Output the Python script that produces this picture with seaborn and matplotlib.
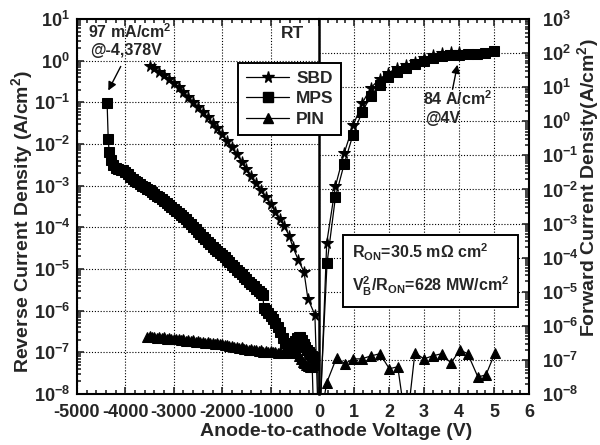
import numpy as np
import pandas as pd
import matplotlib
matplotlib.use("Agg")
import matplotlib.pyplot as plt
import seaborn as sns
from matplotlib.ticker import MultipleLocator, LogLocator, FixedLocator, FuncFormatter, NullFormatter
from matplotlib.lines import Line2D

# ---------------- data ----------------
# reverse side (left axis): voltage in V, log10 of current density in A/cm2
sbd_rev_v = [-3490, -3400, -3300, -3200, -3100, -3000, -2900, -2800, -2700, -2600,
             -2500, -2400, -2300, -2200, -2100, -2000, -1900, -1800, -1700, -1600,
             -1500, -1400, -1300, -1200, -1100, -1000, -900, -800, -720, -620,
             -540, -430, -310, -230, -85, -5]
sbd_rev_log = [-0.12, -0.18, -0.26, -0.35, -0.44, -0.53, -0.64, -0.75, -0.87, -0.99,
               -1.11, -1.24, -1.36, -1.50, -1.62, -1.76, -1.92, -2.08, -2.25, -2.42,
               -2.59, -2.76, -2.93, -3.10, -3.26, -3.45, -3.63, -3.80, -3.96, -4.20,
               -4.47, -4.78, -5.07, -5.71, -6.10, -9.0]

mps_rev_v = [-4378, -4355, -4335, -4300, -4250, -4200, -4150, -4100, -4050, -4000,
             -3950, -3900, -3850, -3800, -3750, -3700, -3650, -3600, -3550, -3500,
             -3450, -3400, -3350, -3300, -3250, -3200, -3150, -3100, -3050, -3000,
             -2950, -2900, -2850, -2800, -2750, -2700, -2650, -2600, -2550, -2500,
             -2450, -2400, -2350, -2300, -2250, -2200, -2150, -2100, -2050, -2000,
             -1950, -1900, -1850, -1800, -1750, -1700, -1650, -1600, -1550, -1500,
             -1450, -1400, -1350, -1300, -1250, -1200, -1160, -1140, -1100, -1050,
             -1000, -950, -900, -850, -800, -750, -700, -650, -600, -560,
             -520, -490, -460, -420, -390, -360, -320, -280, -250, -210,
             -180, -150, -120, -90, -60, -40, -25, -10]
mps_rev_log = [-1.01, -1.88, -2.20, -2.38, -2.50, -2.58, -2.61, -2.62, -2.63, -2.66,
               -2.72, -2.78, -2.84, -2.89, -2.92, -2.96, -3.00, -3.03, -3.07, -3.10,
               -3.15, -3.19, -3.24, -3.28, -3.33, -3.37, -3.42, -3.46, -3.51, -3.55,
               -3.60, -3.65, -3.70, -3.76, -3.81, -3.87, -3.93, -3.99, -4.04, -4.10,
               -4.16, -4.22, -4.28, -4.34, -4.40, -4.46, -4.52, -4.57, -4.62, -4.66,
               -4.72, -4.78, -4.84, -4.90, -4.96, -5.02, -5.07, -5.13, -5.18, -5.24,
               -5.30, -5.36, -5.41, -5.47, -5.52, -5.57, -5.62, -5.93, -5.98, -6.05,
               -6.12, -6.20, -6.30, -6.40, -6.52, -6.65, -6.78, -6.90, -6.98, -7.02,
               -6.85, -6.72, -6.65, -6.62, -6.64, -6.70, -6.80, -6.88, -6.95, -7.00,
               -7.05, -7.08, -7.10, -7.12, -7.15, -7.22, -7.30, -9.0]

pin_rev_v = [-3550, -3500, -3450, -3400, -3350, -3300, -3250, -3200, -3150, -3100,
             -3050, -3000, -2950, -2900, -2850, -2800, -2750, -2700, -2650, -2600,
             -2550, -2500, -2450, -2400, -2350, -2300, -2250, -2200, -2150, -2100,
             -2050, -2000, -1950, -1900, -1850, -1800, -1750, -1700, -1650, -1600,
             -1550, -1500, -1450, -1400, -1350, -1300, -1250, -1200, -1150, -1100,
             -1050, -1000, -950, -900, -850, -800, -750, -700, -660, -620,
             -580, -540, -500, -460, -420, -380, -340, -300, -260, -220,
             -180, -140, -100]
pin_rev_log = [-6.62, -6.60, -6.64, -6.62, -6.65, -6.63, -6.66, -6.64, -6.67, -6.65,
               -6.68, -6.67, -6.69, -6.68, -6.71, -6.69, -6.72, -6.70, -6.73, -6.71,
               -6.74, -6.73, -6.75, -6.74, -6.77, -6.75, -6.78, -6.77, -6.80, -6.78,
               -6.81, -6.80, -6.83, -6.82, -6.85, -6.84, -6.87, -6.86, -6.90, -6.88,
               -6.92, -6.91, -6.94, -6.92, -6.95, -6.94, -6.97, -6.95, -6.98, -6.96,
               -6.99, -6.97, -7.00, -6.98, -7.01, -6.99, -7.01, -6.95, -6.77, -6.82,
               -6.88, -6.85, -6.92, -6.98, -7.08, -7.15, -7.22, -7.26, -7.30, -7.33,
               -7.35, -7.36, -9.0]

# forward side (right axis)
sbd_fwd_v = [0.02, 0.22, 0.47, 0.72, 0.98, 1.24, 1.48, 1.73, 1.98, 2.24,
             2.49, 2.74, 3.00, 3.25, 3.50, 3.77, 4.00]
sbd_fwd_log = [-9.0, -3.57, -1.90, -0.93, -0.11, 0.54, 0.98, 1.24, 1.42, 1.56,
               1.65, 1.74, 1.85, 1.94, 2.00, 2.03, 2.03]

mps_fwd_v = [0.0, 0.23, 0.47, 0.72, 0.97, 1.23, 1.48, 1.73, 1.98, 2.24,
             2.49, 2.74, 3.00, 3.25, 3.50, 3.75, 4.00, 4.25, 4.50, 4.75, 5.00]
mps_fwd_log = [-9.0, -4.16, -2.22, -1.25, -0.40, 0.27, 0.74, 1.06, 1.30, 1.45,
               1.57, 1.68, 1.78, 1.86, 1.91, 1.94, 1.95, 1.97, 1.98, 2.00, 2.05]

pin_fwd_v = [0.0, 0.22, 0.50, 0.74, 0.98, 1.22, 1.49, 1.74, 2.01, 2.25, 2.50,
             2.74, 3.00, 3.25, 3.50, 3.77, 4.03, 4.25, 4.54, 4.77, 5.03]
pin_fwd_log = [-9.0, -7.67, -6.94, -7.11, -6.97, -6.97, -6.88, -6.82, -7.26, -7.20, -9.0,
               -6.79, -6.97, -6.88, -6.82, -7.09, -6.71, -6.82, -7.50, -7.44, -6.79]

neg_ticks = [-5000, -4000, -3000, -2000, -1000]
pos_ticks = [0, 1, 2, 3, 4, 5, 6]
series_labels = ["SBD", "MPS", "PIN"]

# ---------------- style ----------------
sns.set_theme(style="ticks")
plt.rcParams.update({
    "font.family": ["Liberation Sans", "DejaVu Sans"],
    "font.weight": "bold",
    "mathtext.fontset": "custom",
    "mathtext.rm": "Liberation Sans:bold",
    "mathtext.it": "Liberation Sans:bold",
    "mathtext.bf": "Liberation Sans:bold",
    "mathtext.sf": "Liberation Sans:bold",
    "axes.unicode_minus": False,
    "axes.linewidth": 1.5,
    "axes.edgecolor": "black",
})

fig = plt.figure(figsize=(6.0, 4.45), dpi=100)
W, H = 600.0, 445.0
top, bot = 19, 394
axL = fig.add_axes([77 / W, 1 - bot / H, (319 - 77) / W, (bot - top) / H])
axR = fig.add_axes([319 / W, 1 - bot / H, (529 - 319) / W, (bot - top) / H])


def pw(logs):
    return [10.0 ** v for v in logs]


line_kw = dict(color="black", linewidth=0.9, estimator=None, sort=False, legend=False,
               markeredgecolor="black", markerfacecolor="black")
STAR, SQ, TRI = 8.5, 6.5, 7

sns.lineplot(x=sbd_rev_v, y=pw(sbd_rev_log), ax=axL, marker="*", markersize=STAR, **line_kw)
sns.lineplot(x=mps_rev_v, y=pw(mps_rev_log), ax=axL, marker="s", markersize=SQ, **line_kw)
sns.lineplot(x=pin_rev_v, y=pw(pin_rev_log), ax=axL, marker="^", markersize=TRI, **line_kw)

sns.lineplot(x=sbd_fwd_v, y=pw(sbd_fwd_log), ax=axR, marker="*", markersize=STAR, **line_kw)
sns.lineplot(x=mps_fwd_v, y=pw(mps_fwd_log), ax=axR, marker="s", markersize=SQ, **line_kw)
sns.lineplot(x=pin_fwd_v, y=pw(pin_fwd_log), ax=axR, marker="^", markersize=TRI, **line_kw)


def pow_fmt(val, pos):
    e = int(round(np.log10(val)))
    return r"$10^{%d}$" % e


grid_kw = dict(color="black", linestyle=(0, (1, 1.6)), linewidth=0.8)

# left axes (reverse)
axL.set_yscale("log")
axL.set_ylim(1e-8, 1e1)
axL.set_xlim(-5000, 0)
axL.xaxis.set_major_locator(FixedLocator(neg_ticks))
axL.xaxis.set_minor_locator(MultipleLocator(200))
axL.set_xticklabels([str(t) for t in neg_ticks])
axL.yaxis.set_major_locator(LogLocator(base=10, numticks=20))
axL.yaxis.set_minor_locator(LogLocator(base=10, subs=np.arange(2, 10), numticks=20))
axL.yaxis.set_major_formatter(FuncFormatter(pow_fmt))
axL.yaxis.set_minor_formatter(NullFormatter())
axL.spines["right"].set_visible(False)
axL.tick_params(which="both", direction="in", top=True, right=False, left=True,
                labelsize=13, width=1.2)
axL.tick_params(which="major", length=5, pad=5)
axL.tick_params(which="minor", length=3)
axL.tick_params(axis="x", pad=7)
axL.grid(True, which="major", **grid_kw)
axL.set_xlabel("")
axL.set_ylabel("")

# right axes (forward)
axR.set_yscale("log")
axR.set_ylim(1e-8, 1e3)
axR.set_xlim(0, 6)
axR.xaxis.set_major_locator(FixedLocator(pos_ticks))
axR.xaxis.set_minor_locator(MultipleLocator(0.25))
axR.set_xticklabels([str(t) for t in pos_ticks])
axR.yaxis.set_major_locator(LogLocator(base=10, numticks=20))
axR.yaxis.set_minor_locator(LogLocator(base=10, subs=np.arange(2, 10), numticks=20))
axR.yaxis.set_major_formatter(FuncFormatter(pow_fmt))
axR.yaxis.set_minor_formatter(NullFormatter())
axR.yaxis.tick_right()
axR.tick_params(which="both", direction="in", top=True, left=False, right=True,
                labelsize=13, width=1.2)
axR.tick_params(which="major", length=5, pad=9)
axR.tick_params(which="minor", length=3)
axR.tick_params(axis="x", pad=7)
axR.spines["left"].set_linewidth(1.8)
axR.grid(True, which="major", **grid_kw)
axR.set_xlabel("")
axR.set_ylabel("")

# axis titles
fig.text(22 / W, 1 - 222 / H, "Reverse Current Density (A/cm$^2$)", rotation=90,
         ha="center", va="center", fontsize=14, fontweight="bold")
fig.text(588 / W, 1 - 188 / H, "Forward Current Density(A/cm$^2$)", rotation=90,
         ha="center", va="center", fontsize=14, fontweight="bold")
fig.text(336 / W, 1 - 432 / H, "Anode-to-cathode Voltage (V)", ha="center", va="center",
         fontsize=14, fontweight="bold")

# annotations
fig.text(88 / W, 1 - 32 / H, "97 mA/cm$^2$", ha="left", va="center", fontsize=11.5)
fig.text(90 / W, 1 - 51 / H, "@-4,378V", ha="left", va="center", fontsize=11.5)
fig.add_artist(matplotlib.patches.FancyArrowPatch(
    (122 / W, 1 - 64 / H), (107 / W, 1 - 93 / H), transform=fig.transFigure,
    arrowstyle="-|>,head_length=5,head_width=2.5", color="black", lw=1.0))

fig.text(423 / W, 1 - 99 / H, "84 A/cm$^2$", ha="left", va="center", fontsize=11.5)
fig.text(425 / W, 1 - 119 / H, "@4V", ha="left", va="center", fontsize=11.5)
fig.add_artist(matplotlib.patches.FancyArrowPatch(
    (452 / W, 1 - 92 / H), (458 / W, 1 - 62 / H), transform=fig.transFigure,
    arrowstyle="-|>,head_length=5,head_width=2.5", color="black", lw=1.0))

fig.text(293 / W, 1 - 33 / H, "RT", ha="center", va="center", fontsize=12.5)

fig.text(352 / W, 1 - 270 / H,
         "R$_{ON}$=30.5 m\u03a9 cm$^2$\nV$_B^2$/R$_{ON}$=628 MW/cm$^2$",
         ha="left", va="center", fontsize=11.5, linespacing=1.7,
         bbox=dict(boxstyle="square,pad=0.55", fc="white", ec="black", lw=1.4))

# legend
handles = [
    Line2D([], [], color="black", lw=0.9, marker="*", markersize=STAR),
    Line2D([], [], color="black", lw=0.9, marker="s", markersize=SQ),
    Line2D([], [], color="black", lw=0.9, marker="^", markersize=TRI),
]
leg = fig.legend(handles, series_labels, loc="upper left",
                 bbox_to_anchor=(238 / W, 1 - 63 / H), borderaxespad=0,
                 frameon=True, fancybox=False,
                 edgecolor="black", framealpha=1, handlelength=2.5,
                 labelspacing=0.3, borderpad=0.45, handletextpad=0.4,
                 prop={"weight": "bold", "size": 12.5})
leg.get_frame().set_linewidth(1.4)

fig.savefig("out.png", dpi=100)
